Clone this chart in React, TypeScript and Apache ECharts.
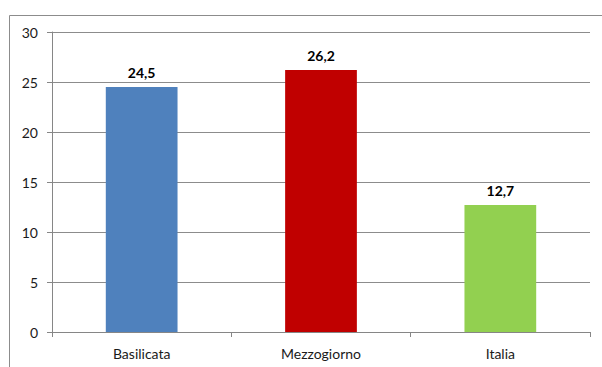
import React, { useEffect, useRef } from "react";
import * as echarts from "echarts";

const categories = ["Basilicata", "Mezzogiorno", "Italia"];
const values = [24.5, 26.2, 12.7];
const barColors = ["#4F81BD", "#C00000", "#92D050"];
const yTicks = [0, 5, 10, 15, 20, 25, 30];

export default function App() {
  const ref = useRef<HTMLDivElement>(null);
  useEffect(() => {
    if (!ref.current) return;
    const chart = echarts.init(ref.current, undefined, { renderer: "svg" });
    const font = "Lato, 'Open Sans', sans-serif";
    chart.setOption({
      animation: false,
      backgroundColor: "#ffffff",
      graphic: [
        {
          type: "rect",
          shape: { x: 9.5, y: 15.5, width: 620, height: 380 },
          style: { fill: "none", stroke: "#8c8c8c", lineWidth: 1 },
          silent: true,
          z: 0,
        },
      ],
      grid: { left: 52, right: 12, top: 32, bottom: 35 },
      xAxis: {
        type: "category",
        data: categories,
        axisLine: { lineStyle: { color: "#868686", width: 1 } },
        axisTick: { show: true, length: 5, lineStyle: { color: "#868686" } },
        axisLabel: { color: "#1a1a1a", fontSize: 14, fontFamily: font, margin: 14 },
      },
      yAxis: {
        type: "value",
        min: 0,
        max: 30,
        interval: 5,
        axisLine: { show: true, lineStyle: { color: "#868686", width: 1 } },
        axisTick: { show: true, length: 5, lineStyle: { color: "#868686" } },
        axisLabel: {
          color: "#1a1a1a",
          fontSize: 14,
          fontFamily: font,
          margin: 14,
          formatter: (v: number) => (yTicks.includes(v) ? String(v) : ""),
        },
        splitLine: { lineStyle: { color: "#8c8c8c", width: 1 } },
      },
      series: [
        {
          type: "bar",
          barWidth: "40%",
          data: values.map((v, i) => ({ value: v, itemStyle: { color: barColors[i] } })),
          label: {
            show: true,
            position: "top",
            distance: 8,
            fontWeight: "bold",
            fontSize: 14,
            fontFamily: font,
            color: "#000000",
            formatter: (p: any) => String(p.value).replace(".", ","),
          },
          z: 3,
        },
      ],
    });
    return () => chart.dispose();
  }, []);
  return (
    <div
      ref={ref}
      style={{ position: "fixed", left: 0, top: 0, width: 602, height: 367 }}
    />
  );
}
